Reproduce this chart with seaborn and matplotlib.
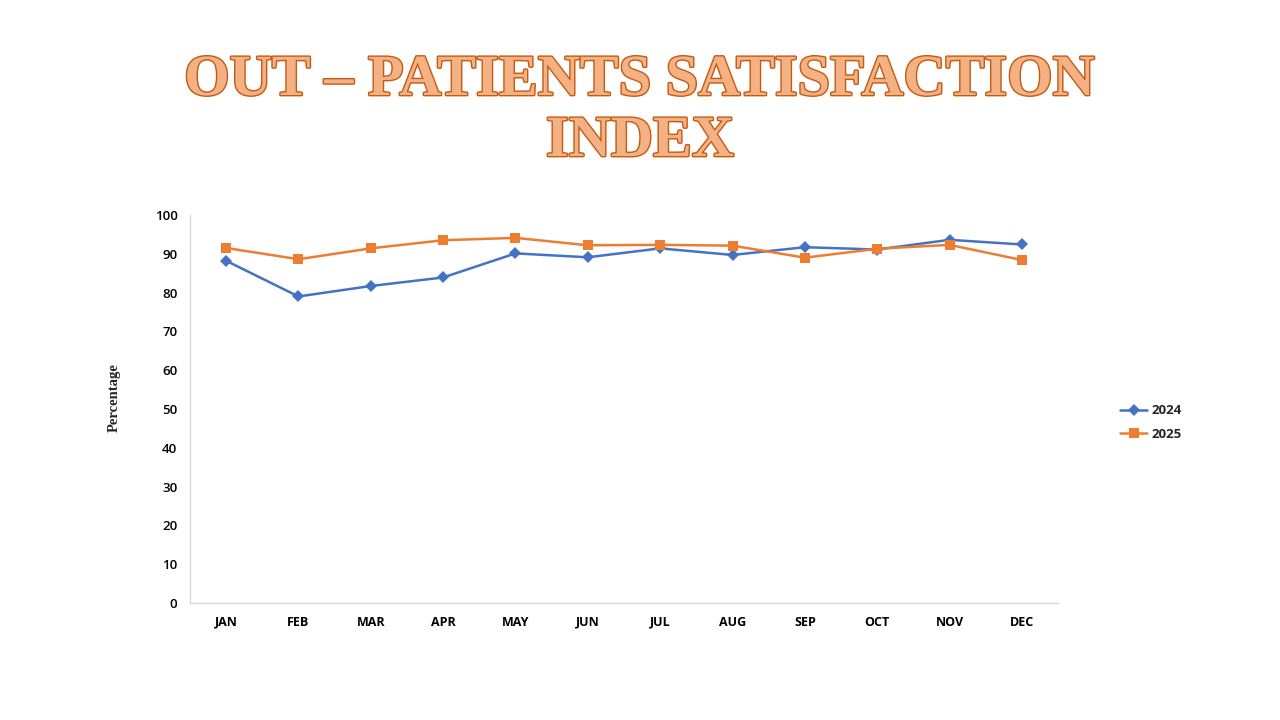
import matplotlib
matplotlib.use("Agg")
import matplotlib.pyplot as plt
import matplotlib.patheffects as pe
import pandas as pd
import seaborn as sns

# monthly satisfaction (%)
months = ["JAN", "FEB", "MAR", "APR", "MAY", "JUN", "JUL", "AUG", "SEP", "OCT", "NOV", "DEC"]
y2024 = [88.2, 79.0, 81.7, 83.9, 90.1, 89.1, 91.4, 89.7, 91.7, 91.1, 93.6, 92.4]
y2025 = [91.5, 88.6, 91.4, 93.5, 94.1, 92.2, 92.3, 92.1, 89.0, 91.3, 92.3, 88.4]
yticks = list(range(0, 101, 10))

df = pd.DataFrame({
    "month": months * 2,
    "value": y2024 + y2025,
    "year": ["2024"] * 12 + ["2025"] * 12,
})

sns.set_theme(style="white")
plt.rcParams["font.family"] = ["Open Sans", "DejaVu Sans"]

fig = plt.figure(figsize=(12.8, 7.2), dpi=100)
ax = fig.add_axes([0.1484, 0.1625, 0.6782, 0.5389])

palette = {"2024": "#4472C4", "2025": "#ED7D31"}
sns.lineplot(data=df, x="month", y="value", hue="year", style="year",
             palette=palette, markers={"2024": "D", "2025": "s"}, dashes=False,
             markersize=6.5, linewidth=1.8, markeredgewidth=0, ax=ax)

ax.set_xlim(-0.5, 11.5)
ax.set_ylim(0, 100)
ax.set_yticks(yticks)
ax.tick_params(axis="y", labelsize=9.5, colors="#000000", pad=9, length=0)
ax.tick_params(axis="x", labelsize=9, pad=9, length=0)
for lab in ax.get_xticklabels():
    lab.set_fontweight("bold")
    lab.set_color("#000000")
for lab in ax.get_yticklabels():
    lab.set_fontweight("semibold")

for s in ["top", "right"]:
    ax.spines[s].set_visible(False)
for s in ["left", "bottom"]:
    ax.spines[s].set_color("#D9D9D9")
    ax.spines[s].set_linewidth(1)

serif = ["Liberation Serif", "DejaVu Serif"]
ax.set_xlabel("")
ax.set_ylabel("Percentage", family=serif, fontweight="bold", fontsize=10.5)
ax.yaxis.set_label_coords(-0.0795, 0.53)

handles, labels = ax.get_legend_handles_labels()
ax.get_legend().remove()
leg = fig.legend(handles, labels, loc="center left", bbox_to_anchor=(0.866, 0.413),
                 frameon=False, fontsize=9.5, handlelength=2.0, labelspacing=0.8,
                 handletextpad=0.4)
for t in leg.get_texts():
    t.set_fontweight("bold")

title_kw = dict(ha="center", va="baseline", family=serif,
                fontweight="bold", fontsize=42, color="#F4B183",
                path_effects=[pe.withStroke(linewidth=2.0, foreground="#C55A11")])
fig.text(0.5, 1 - 95 / 720, "OUT – PATIENTS SATISFACTION", **title_kw)
fig.text(0.5, 1 - 156 / 720, "INDEX", **title_kw)

fig.savefig("out.png", dpi=100)
